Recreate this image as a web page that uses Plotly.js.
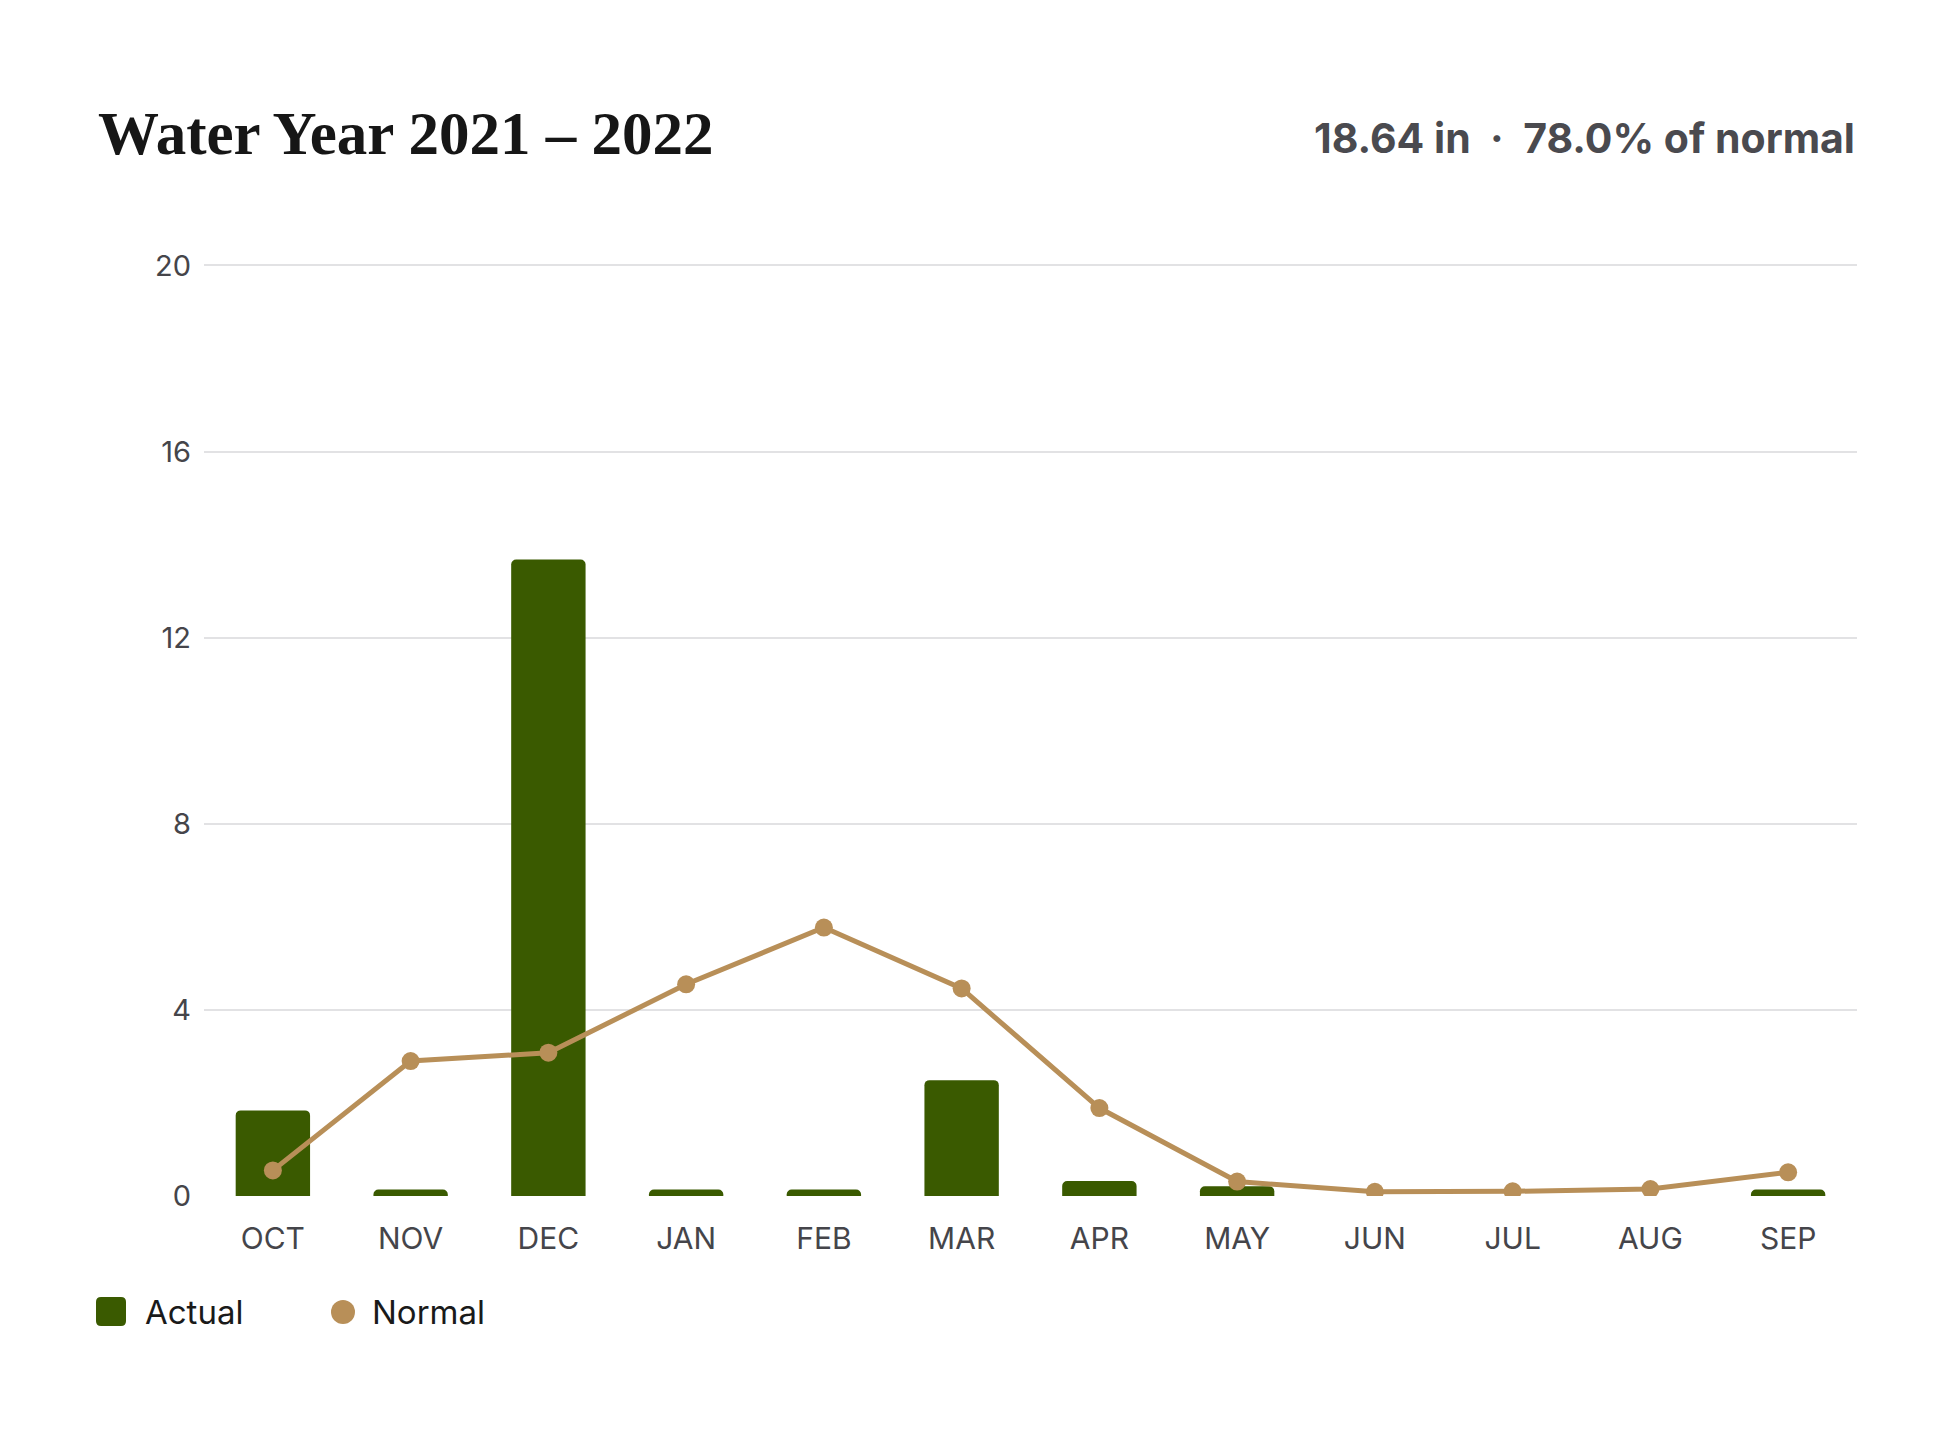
<!DOCTYPE html>
<html>
<head>
<meta charset="utf-8">
<script src="https://cdn.plot.ly/plotly-3.0.1.min.js"></script>
<style>
html,body{margin:0;padding:0;background:#ffffff;}
#chart{width:1953px;height:1440px;}
</style>
</head>
<body>
<div id="chart"></div>
<script>
// ---- data ----
const months = ["OCT","NOV","DEC","JAN","FEB","MAR","APR","MAY","JUN","JUL","AUG","SEP"];
const actual = [1.84, 0.14, 13.68, 0.14, 0.14, 2.49, 0.32, 0.21, 0, 0, 0, 0.14];
const normal = [0.55, 2.90, 3.08, 4.55, 5.77, 4.46, 1.89, 0.31, 0.09, 0.10, 0.15, 0.51];
const yTicks = [0, 4, 8, 12, 16, 20];
const yRange = [0, 20.03];
const titleText = "Water Year 2021 – 2022";
const summaryText = "18.64 in  ·  78.0% of normal";
const legendNames = ["Actual", "Normal"];

// ---- layout helpers ----
const W = 1953, H = 1440;
const L = 204, R = 1857, T = 264, B = 1196;
const px2x = p => (p - L) / (R - L);
const py2y = p => (B - p) / (B - T);

const GREEN = "#3a5a00";
const TAN = "#b88f58";

const traces = [
  {
    type: "bar",
    x: months,
    y: actual,
    name: legendNames[0],
    marker: { color: GREEN, cornerradius: 5, line: { width: 0 } },
    hoverinfo: "x+y",
    showlegend: false
  },
  {
    type: "scatter",
    mode: "lines+markers",
    x: months,
    y: normal,
    name: legendNames[1],
    line: { color: TAN, width: 5 },
    marker: { color: TAN, size: 18 },
    showlegend: false
  }
];

// rounded square path in paper coords
function roundRect(x0, y0, x1, y1, r) {
  const rx = r / (R - L), ry = r / (B - T);
  const X0 = px2x(x0), X1 = px2x(x1), Y0 = py2y(y0), Y1 = py2y(y1); // Y0 top (larger)
  return `M ${X0 + rx} ${Y0} L ${X1 - rx} ${Y0} Q ${X1} ${Y0} ${X1} ${Y0 - ry} ` +
         `L ${X1} ${Y1 + ry} Q ${X1} ${Y1} ${X1 - rx} ${Y1} L ${X0 + rx} ${Y1} ` +
         `Q ${X0} ${Y1} ${X0} ${Y1 + ry} L ${X0} ${Y0 - ry} Q ${X0} ${Y0} ${X0 + rx} ${Y0} Z`;
}

const layout = {
  width: W,
  height: H,
  paper_bgcolor: "#ffffff",
  plot_bgcolor: "#ffffff",
  margin: { l: L, r: W - R, t: T, b: H - B, pad: 0 },
  bargap: 0.46,
  showlegend: false,
  font: { family: "Inter, 'Noto Sans', sans-serif", color: "#45454a" },
  xaxis: {
    type: "category",
    range: [-0.5, 11.5],
    showgrid: false,
    showline: false,
    zeroline: false,
    ticks: "",
    ticklabelstandoff: 22,
    tickfont: { family: "Inter, sans-serif", size: 30, color: "#45454a" },
    fixedrange: true
  },
  yaxis: {
    range: yRange,
    tickvals: yTicks,
    showgrid: true,
    gridcolor: "#e2e2e4",
    gridwidth: 2,
    showline: false,
    zeroline: false,
    ticks: "",
    ticklabelstandoff: 12,
    tickfont: { family: "Inter, sans-serif", size: 29, color: "#45454a" },
    fixedrange: true
  },
  annotations: [
    {
      text: "<b>" + titleText + "</b>",
      xref: "paper", yref: "paper",
      x: px2x(96), y: py2y(133),
      xanchor: "left", yanchor: "middle",
      showarrow: false,
      font: { family: "'Liberation Serif', 'DejaVu Serif', serif", size: 61, color: "#161616" }
    },
    {
      text: "<b>" + summaryText + "</b>",
      xref: "paper", yref: "paper",
      x: 1, y: py2y(138),
      xanchor: "right", yanchor: "middle",
      showarrow: false,
      font: { family: "Inter, sans-serif", size: 41, color: "#4a4a4f" }
    },
    {
      text: legendNames[0],
      xref: "paper", yref: "paper",
      x: px2x(143), y: py2y(1312),
      xanchor: "left", yanchor: "middle",
      showarrow: false,
      font: { family: "Inter, sans-serif", size: 33, color: "#1a1a1a" }
    },
    {
      text: legendNames[1],
      xref: "paper", yref: "paper",
      x: px2x(370), y: py2y(1312),
      xanchor: "left", yanchor: "middle",
      showarrow: false,
      font: { family: "Inter, sans-serif", size: 33, color: "#1a1a1a" }
    }
  ],
  shapes: [
    {
      type: "path",
      xref: "paper", yref: "paper",
      path: roundRect(96, 1297, 126, 1326, 5),
      fillcolor: GREEN,
      line: { width: 0 }
    },
    {
      type: "circle",
      xref: "paper", yref: "paper",
      x0: px2x(331), x1: px2x(355),
      y0: py2y(1300), y1: py2y(1324),
      fillcolor: TAN,
      line: { width: 0 }
    }
  ]
};

Plotly.newPlot("chart", traces, layout, { displayModeBar: false, staticPlot: true });
</script>
</body>
</html>
